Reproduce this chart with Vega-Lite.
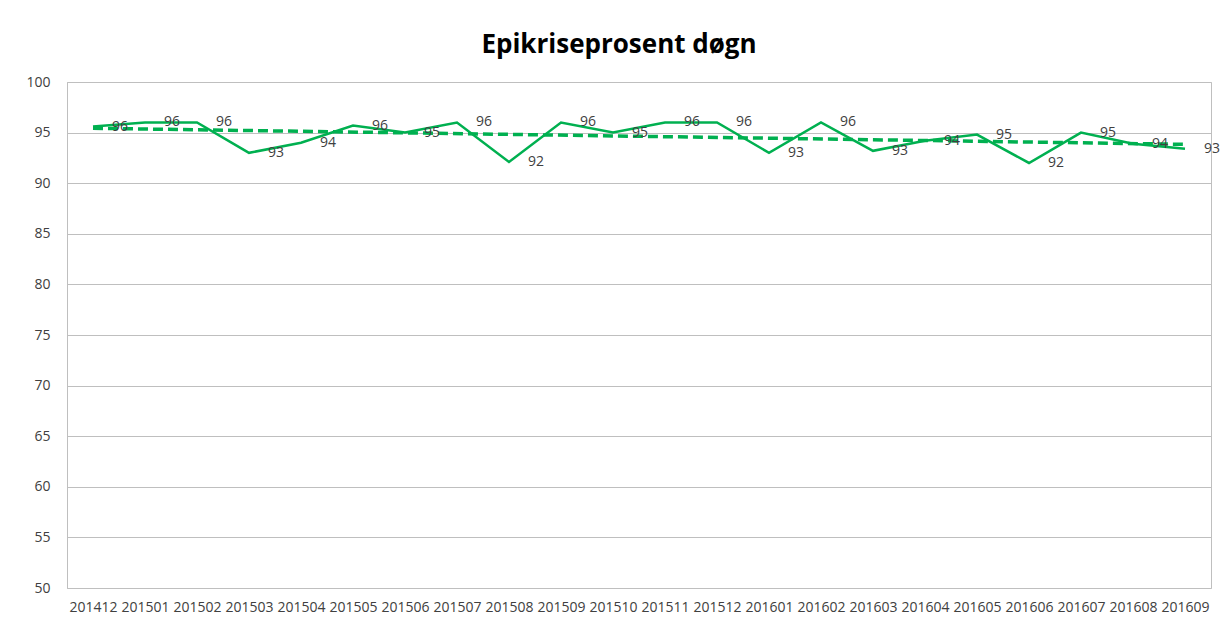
{
  "$schema": "https://vega.github.io/schema/vega-lite/v6.json",
  "width": 1144,
  "height": 506,
  "autosize": {"type": "none"},
  "padding": {"left": 67, "top": 82, "right": 17, "bottom": 36},
  "background": "white",
  "title": {"text": "Epikriseprosent døgn", "font": "Open Sans", "fontSize": 26, "fontWeight": "bold", "color": "#000000", "anchor": "middle", "offset": 17, "dx": -20},
  "config": {"view": {"stroke": "#BFBFBF", "strokeWidth": 1}, "font": "Open Sans"},
  "datasets": {
    "actual": [
      {"period": "201412", "value": 95.6},
      {"period": "201501", "value": 96.0},
      {"period": "201502", "value": 96.0},
      {"period": "201503", "value": 93.0},
      {"period": "201504", "value": 94.0},
      {"period": "201505", "value": 95.7},
      {"period": "201506", "value": 95.0},
      {"period": "201507", "value": 96.0},
      {"period": "201508", "value": 92.1},
      {"period": "201509", "value": 96.0},
      {"period": "201510", "value": 95.0},
      {"period": "201511", "value": 96.0},
      {"period": "201512", "value": 96.0},
      {"period": "201601", "value": 93.0},
      {"period": "201602", "value": 96.0},
      {"period": "201603", "value": 93.2},
      {"period": "201604", "value": 94.2},
      {"period": "201605", "value": 94.8},
      {"period": "201606", "value": 92.0},
      {"period": "201607", "value": 95.0},
      {"period": "201608", "value": 93.9},
      {"period": "201609", "value": 93.4}
    ],
    "trend": [
      {"period": "201412", "trend": 95.43},
      {"period": "201609", "trend": 93.84}
    ]
  },
  "layer": [
    {
      "data": {"name": "actual"},
      "mark": {"type": "line", "color": "#00B050", "strokeWidth": 2.5},
      "encoding": {
        "x": {"field": "period", "type": "ordinal", "scale": {"type": "point", "padding": 0.5},
          "axis": {"title": null, "labelAngle": 0, "ticks": false, "domain": false, "grid": false, "labelPadding": 12, "labelFontSize": 14, "labelColor": "#404040", "labelFont": "Open Sans"}},
        "y": {"field": "value", "type": "quantitative", "scale": {"domain": [50, 100], "nice": false, "zero": false},
          "axis": {"title": null, "values": [50, 55, 60, 65, 70, 75, 80, 85, 90, 95, 100], "grid": true, "gridColor": "#BFBFBF", "domain": true, "domainColor": "#BFBFBF", "ticks": false, "labelPadding": 17, "labelFontSize": 14, "labelColor": "#404040", "labelFont": "Open Sans"}}
      }
    },
    {
      "data": {"name": "trend"},
      "mark": {"type": "line", "color": "#00B050", "strokeWidth": 3.5, "strokeDash": [10, 5]},
      "encoding": {
        "x": {"field": "period", "type": "ordinal"},
        "y": {"field": "trend", "type": "quantitative"}
      }
    },
    {
      "data": {"name": "actual"},
      "mark": {"type": "text", "align": "left", "baseline": "middle", "dx": 19, "fontSize": 14, "color": "#404040", "font": "Open Sans"},
      "encoding": {
        "x": {"field": "period", "type": "ordinal"},
        "y": {"field": "value", "type": "quantitative"},
        "text": {"field": "value", "type": "quantitative", "format": ".0f"}
      }
    }
  ]
}
